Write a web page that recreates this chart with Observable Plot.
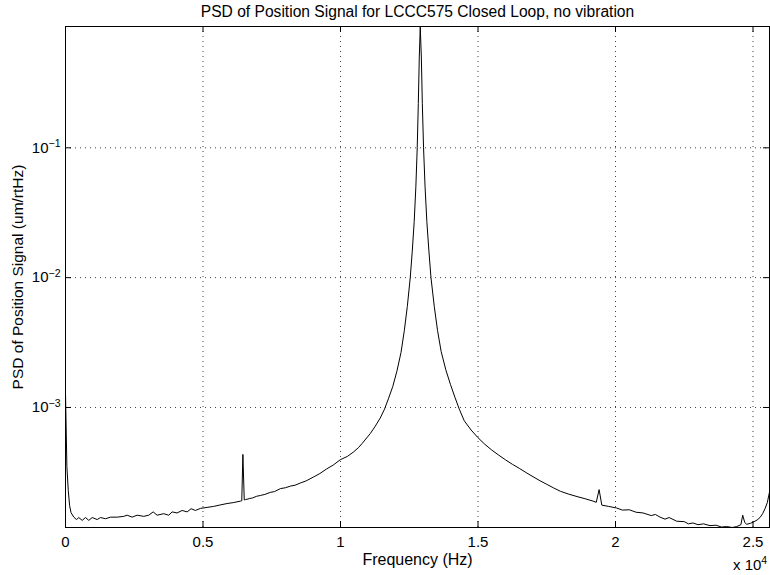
<!DOCTYPE html>
<html><head><meta charset="utf-8">
<script src="https://cdn.jsdelivr.net/npm/d3@7"></script>
<script src="https://cdn.jsdelivr.net/npm/@observablehq/plot@0.6"></script>
<style>
body{margin:0;background:#fff;}
#chart{width:770px;height:575px;}
svg text{font-family:"Liberation Sans",Arial,Helvetica,sans-serif;}
</style></head><body><div id="chart"></div>
<script>
const title = "PSD of Position Signal for LCCC575 Closed Loop, no vibration";
const xLabel = "Frequency (Hz)";
const yLabel = "PSD of Position Signal (um/rtHz)";
const xTicks = [0, 5000, 10000, 15000, 20000, 25000];
const xTickLabels = ["0", "0.5", "1", "1.5", "2", "2.5"];
const yTicks = [1e-3, 1e-2, 1e-1];
const yTickExps = ["\u22123", "\u22122", "\u22121"];
const xMultiplier = "x 10";
const xMultiplierExp = "4";

const freq = [0, 50, 100, 150, 200, 302, 400, 483, 607, 727, 847, 970, 1152, 1272, 1454, 1635, 1879, 2119, 2242, 2424, 2606, 2845, 3027, 3187, 3332, 3572, 3754, 3877, 4059, 4241, 4423, 4568, 4724, 4906, 5150, 5389, 5650, 5875, 6100, 6360, 6410, 6450, 6500, 6541, 6700, 6800, 6950, 7086, 7250, 7450, 7600, 7813, 8000, 8180, 8350, 8540, 8750, 9012, 9250, 9485, 9750, 9993, 10250, 10466, 10650, 10793, 11083, 11250, 11446, 11600, 11750, 11900, 12050, 12200, 12320, 12430, 12536, 12610, 12680, 12740, 12790, 12830, 12865, 12900, 12940, 12975, 13020, 13075, 13140, 13215, 13290, 13410, 13530, 13660, 13830, 14000, 14160, 14320, 14500, 14750, 15000, 15250, 15500, 15750, 16000, 16250, 16500, 16750, 17000, 17250, 17500, 17750, 18000, 18300, 18600, 18900, 19186, 19300, 19404, 19502, 19750, 20047, 20250, 20500, 20750, 21003, 21300, 21450, 21621, 21800, 21950, 22227, 22500, 22650, 22820, 23000, 23200, 23437, 23650, 23850, 24044, 24250, 24408, 24560, 24626, 24700, 24771, 24900, 25011, 25150, 25254, 25350, 25436, 25520, 25600];
const psd = [1.3e-3, 3.5e-4, 2.3e-4, 1.75e-4, 1.55e-4, 1.43e-4, 1.37e-4, 1.42e-4, 1.35e-4, 1.42e-4, 1.35e-4, 1.42e-4, 1.37e-4, 1.42e-4, 1.39e-4, 1.43e-4, 1.43e-4, 1.45e-4, 1.48e-4, 1.43e-4, 1.48e-4, 1.45e-4, 1.48e-4, 1.57e-4, 1.48e-4, 1.52e-4, 1.48e-4, 1.57e-4, 1.54e-4, 1.61e-4, 1.57e-4, 1.66e-4, 1.61e-4, 1.67e-4, 1.70e-4, 1.73e-4, 1.78e-4, 1.82e-4, 1.85e-4, 1.90e-4, 1.91e-4, 4.35e-4, 1.94e-4, 1.95e-4, 1.99e-4, 2.01e-4, 2.07e-4, 2.1e-4, 2.14e-4, 2.22e-4, 2.25e-4, 2.37e-4, 2.41e-4, 2.48e-4, 2.52e-4, 2.62e-4, 2.72e-4, 2.91e-4, 3.1e-4, 3.35e-4, 3.62e-4, 3.96e-4, 4.2e-4, 4.53e-4, 4.9e-4, 5.3e-4, 6.3e-4, 7.1e-4, 8.3e-4, 9.7e-4, 1.18e-3, 1.45e-3, 1.9e-3, 2.65e-3, 3.9e-3, 6.0e-3, 1.0e-2, 1.6e-2, 2.7e-2, 5.0e-2, 0.1, 0.22, 0.5, 0.85, 0.5, 0.22, 0.1, 5.0e-2, 2.7e-2, 1.6e-2, 1.0e-2, 6.0e-3, 3.9e-3, 2.7e-3, 1.95e-3, 1.5e-3, 1.2e-3, 9.7e-4, 7.9e-4, 6.7e-4, 5.85e-4, 5.2e-4, 4.7e-4, 4.3e-4, 3.95e-4, 3.65e-4, 3.4e-4, 3.15e-4, 2.93e-4, 2.73e-4, 2.56e-4, 2.4e-4, 2.26e-4, 2.15e-4, 2.06e-4, 1.98e-4, 1.9e-4, 1.86e-4, 2.33e-4, 1.77e-4, 1.73e-4, 1.68e-4, 1.62e-4, 1.63e-4, 1.56e-4, 1.54e-4, 1.47e-4, 1.5e-4, 1.43e-4, 1.38e-4, 1.42e-4, 1.33e-4, 1.32e-4, 1.27e-4, 1.29e-4, 1.25e-4, 1.27e-4, 1.23e-4, 1.24e-4, 1.2e-4, 1.21e-4, 1.19e-4, 1.21e-4, 1.25e-4, 1.48e-4, 1.3e-4, 1.26e-4, 1.28e-4, 1.31e-4, 1.36e-4, 1.42e-4, 1.52e-4, 1.66e-4, 1.85e-4, 2.23e-4];

const data = freq.map((f, i) => ({f, v: psd[i]}));
const W = 770, H = 575, mL = 65, mR = 1, mT = 26, mB = 48;
const innerH = H - mT - mB, innerW = W - mL - mR;
const tick = 6;
const font = "Liberation Sans, Arial, sans-serif";
const gridStyle = {stroke: "#000", strokeOpacity: 0.75, strokeWidth: 1, strokeDasharray: "1,4"};

const chart = Plot.plot({
  width: W, height: H,
  marginLeft: mL, marginRight: mR, marginTop: mT, marginBottom: mB,
  style: {fontFamily: font, fontSize: "15px", background: "#fff", color: "#000", overflow: "visible"},
  x: {domain: [0, 25600]},
  y: {type: "log", domain: [1.19e-4, 0.86]},
  marks: [
    Plot.gridX(xTicks, gridStyle),
    Plot.gridY(yTicks, gridStyle),
    Plot.ruleX(xTicks, {x: d => d, insetTop: innerH - tick, stroke: "#000"}),
    Plot.ruleX(xTicks, {x: d => d, insetBottom: innerH - tick, stroke: "#000"}),
    Plot.ruleY(yTicks, {y: d => d, insetRight: innerW - tick, stroke: "#000"}),
    Plot.ruleY(yTicks, {y: d => d, insetLeft: innerW - tick, stroke: "#000"}),
    Plot.line(data, {x: "f", y: "v", stroke: "#000", strokeWidth: 1}),
    Plot.axisX(xTicks, {anchor: "bottom", tickSize: 0, tickPadding: 9, fontSize: 15,
      tickFormat: d => xTickLabels[xTicks.indexOf(d)], label: null}),
    Plot.axisY(yTicks, {anchor: "left", tickSize: 0, tickPadding: 5, fontSize: 15,
      tickFormat: d => "10", label: null}),
    Plot.text([title], {frameAnchor: "top", dy: -10, lineAnchor: "bottom", fontSize: 15.6, text: d => d}),
    Plot.text([xLabel], {frameAnchor: "bottom", dy: 37, lineAnchor: "bottom", fontSize: 16, text: d => d}),
    Plot.text([yLabel], {frameAnchor: "left", dx: -43, rotate: -90, lineAnchor: "bottom", textAnchor: "middle", fontSize: 15.5, text: d => d}),
    Plot.frame({stroke: "#000", strokeWidth: 1})
  ]
});
document.getElementById("chart").appendChild(chart);

// superscripts for log tick labels
const svg = d3.select(chart);
svg.selectAll('g[aria-label="y-axis tick label"] text').each(function(d, i) {
  const t = d3.select(this);
  t.text("10");
  t.append("tspan").attr("dy", "-0.55em").attr("font-size", "10.5px").text(yTickExps[i]);
});
const m = svg.append("text").attr("x", 733).attr("y", 570).attr("font-size", 15).attr("fill", "#000")
  .attr("text-anchor", "start").attr("font-family", font).text(xMultiplier);
m.append("tspan").attr("dy", "-0.6em").attr("font-size", "10.5px").text(xMultiplierExp);
</script></body></html>
